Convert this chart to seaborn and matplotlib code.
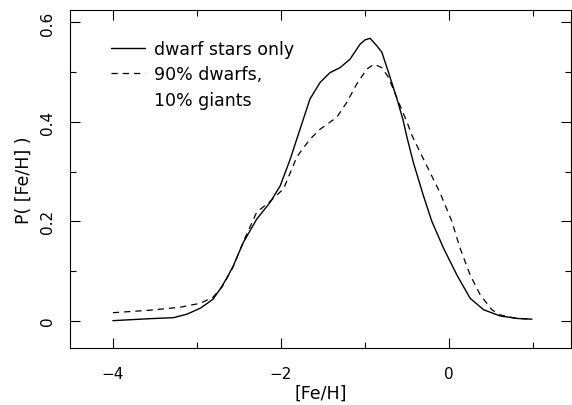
import numpy as np
import seaborn as sns
import matplotlib
matplotlib.use("Agg")
import matplotlib.pyplot as plt
from matplotlib.lines import Line2D
from matplotlib.ticker import MultipleLocator

# metallicity distribution
feh_dwarf = [-4.0, -3.56, -3.28, -3.12, -2.96, -2.81, -2.726, -2.65, -2.568,
             -2.449, -2.29, -2.13, -2.01, -1.89, -1.774, -1.655, -1.536,
             -1.417, -1.298, -1.179, -1.06, -1.0, -0.94, -0.86, -0.80, -0.72,
             -0.62, -0.55, -0.50, -0.425, -0.305, -0.206, -0.067, 0.092,
             0.25, 0.41, 0.607, 0.806, 0.985]
p_dwarf = [0.0, 0.004, 0.006, 0.013, 0.025, 0.043, 0.063, 0.084, 0.110,
           0.157, 0.204, 0.238, 0.271, 0.325, 0.385, 0.446, 0.479,
           0.499, 0.509, 0.526, 0.556, 0.565, 0.568, 0.553, 0.540, 0.499,
           0.446, 0.405, 0.368, 0.318, 0.251, 0.200, 0.146, 0.092,
           0.045, 0.022, 0.0095, 0.0045, 0.003]

feh_mix = [-4.0, -3.56, -3.20, -2.96, -2.81, -2.70, -2.57, -2.45, -2.29,
           -2.13, -1.97, -1.81, -1.655, -1.536, -1.337, -1.218, -1.099,
           -0.98, -0.893, -0.80, -0.72, -0.60, -0.50, -0.44, -0.305, -0.107,
           0.032, 0.13, 0.25, 0.37, 0.508, 0.607, 0.806, 0.985]
p_mix = [0.016, 0.021, 0.027, 0.035, 0.047, 0.068, 0.108, 0.158, 0.218,
         0.240, 0.265, 0.330, 0.365, 0.385, 0.409, 0.439, 0.476,
         0.506, 0.516, 0.509, 0.489, 0.439, 0.399, 0.372, 0.325, 0.257,
         0.200, 0.146, 0.092, 0.052, 0.022, 0.0115, 0.0045, 0.003]

sns.set_style("ticks")
plt.rcParams['font.family'] = ['DejaVu Sans']
plt.rcParams['text.color'] = 'black'
plt.rcParams['axes.labelcolor'] = 'black'
plt.rcParams['xtick.color'] = 'black'
plt.rcParams['ytick.color'] = 'black'

fig = plt.figure(figsize=(5.72, 4.06), dpi=100)
ax = fig.add_axes([70 / 572, 1 - 349 / 406, 501 / 572, 338 / 406])

sns.lineplot(x=feh_dwarf, y=p_dwarf, ax=ax, color='black', lw=1.0)
sns.lineplot(x=feh_mix, y=p_mix, ax=ax, color='black', lw=0.9,
             linestyle=(0, (5, 4)))

ax.set_xlim(-4.51, 1.45)
ax.set_ylim(-0.055, 0.625)
ax.xaxis.set_major_locator(MultipleLocator(2))
ax.xaxis.set_minor_locator(MultipleLocator(1))
ax.yaxis.set_major_locator(MultipleLocator(0.2))
ax.yaxis.set_minor_locator(MultipleLocator(0.1))
ax.xaxis.set_major_formatter(plt.FuncFormatter(
    lambda v, p: '0' if abs(v) < 1e-9 else '\u2212%d' % abs(v) if v < 0 else '%d' % v))
ax.yaxis.set_major_formatter(plt.FuncFormatter(
    lambda v, p: '0' if abs(v) < 1e-9 else '%.1f' % v))
ax.tick_params(which='both', direction='in', top=True, right=True,
               labelsize=11, width=0.8, color='black')
ax.tick_params(which='major', length=7)
ax.tick_params(which='minor', length=4)
ax.tick_params(axis='x', pad=13)
ax.tick_params(axis='y', pad=11)
for lbl in ax.get_yticklabels():
    lbl.set_rotation(90)
    lbl.set_va('center')

for spine in ax.spines.values():
    spine.set_visible(True)
    spine.set_linewidth(0.8)
    spine.set_color('black')

ax.set_xlabel('[Fe/H]', fontsize=12.5, labelpad=2)
ax.set_ylabel('P( [Fe/H] )', fontsize=12.5, labelpad=5)

handles = [Line2D([], [], color='black', lw=1.0),
           Line2D([], [], color='black', lw=0.9, linestyle=(0, (5, 4))),
           Line2D([], [], linestyle='none')]
labels = ['dwarf stars only', '90% dwarfs,', '10% giants']
ax.legend(handles, labels, loc='upper left', frameon=False, fontsize=12.5,
          handlelength=2.0, handletextpad=0.5, labelspacing=0.42,
          borderaxespad=0, bbox_to_anchor=(0.067, 0.932))

fig.savefig('out.png', dpi=100)
